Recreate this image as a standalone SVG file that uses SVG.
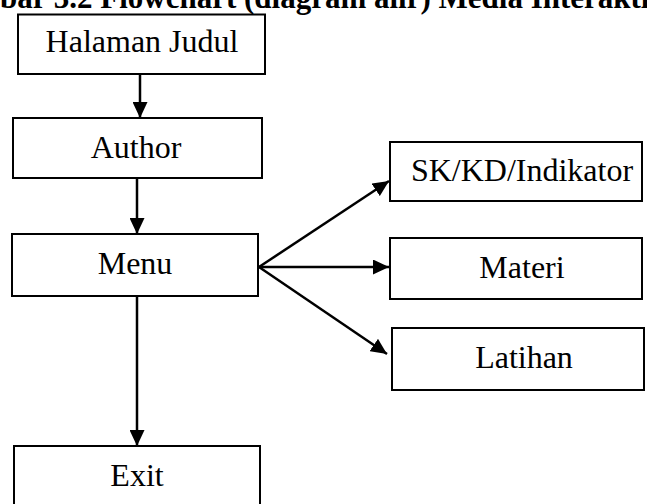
<svg xmlns="http://www.w3.org/2000/svg" width="647" height="504" viewBox="0 0 647 504">
<defs>
<style>
.box{fill:#fff;stroke:#000;stroke-width:2}
.lbl{font-family:"Liberation Serif","Times New Roman",serif;font-size:32px;fill:#000;text-anchor:middle}
.title{font-family:"Liberation Serif","Times New Roman",serif;font-size:31px;font-weight:bold;fill:#000}
.conn{stroke:#000;stroke-width:2.5;fill:none}
</style>
<marker id="ah" viewBox="0 0 16 15" refX="16" refY="7.5" markerWidth="16" markerHeight="15" markerUnits="userSpaceOnUse" orient="auto">
<path d="M0,0 L16,7.5 L0,15 Z" fill="#000"/>
</marker>
</defs>
<rect width="647" height="504" fill="#fff"/>
<text class="title" x="0" y="8">bar 3.2 Flowchart (diagram alir) Media Interaktif</text>
<g id="connectors">
<line class="conn" x1="140" y1="74" x2="140" y2="118" marker-end="url(#ah)"/>
<line class="conn" x1="137" y1="178" x2="137" y2="234" marker-end="url(#ah)"/>
<line class="conn" x1="137" y1="296" x2="137" y2="446" marker-end="url(#ah)"/>
<line class="conn" x1="259" y1="267" x2="389" y2="181" marker-end="url(#ah)"/>
<line class="conn" x1="259" y1="267" x2="389" y2="267" marker-end="url(#ah)"/>
<line class="conn" x1="259" y1="267" x2="387" y2="354" marker-end="url(#ah)"/>
</g>
<g id="halaman-judul">
<rect class="box" x="18" y="14.5" width="247" height="59.5"/>
<text class="lbl" x="142" y="52">Halaman Judul</text>
</g>
<g id="author">
<rect class="box" x="13" y="118" width="249" height="60"/>
<text class="lbl" x="136" y="158">Author</text>
</g>
<g id="menu">
<rect class="box" x="12" y="234" width="246" height="62"/>
<text class="lbl" x="135" y="274">Menu</text>
</g>
<g id="exit">
<rect class="box" x="14" y="446" width="246" height="70"/>
<text class="lbl" x="137" y="486">Exit</text>
</g>
<g id="sk-kd-indikator">
<rect class="box" x="390" y="142" width="252" height="59"/>
<text class="lbl" x="522" y="181">SK/KD/Indikator</text>
</g>
<g id="materi">
<rect class="box" x="390" y="238" width="252" height="61"/>
<text class="lbl" x="522" y="278">Materi</text>
</g>
<g id="latihan">
<rect class="box" x="392" y="328" width="252" height="62"/>
<text class="lbl" x="524" y="368">Latihan</text>
</g>
</svg>
